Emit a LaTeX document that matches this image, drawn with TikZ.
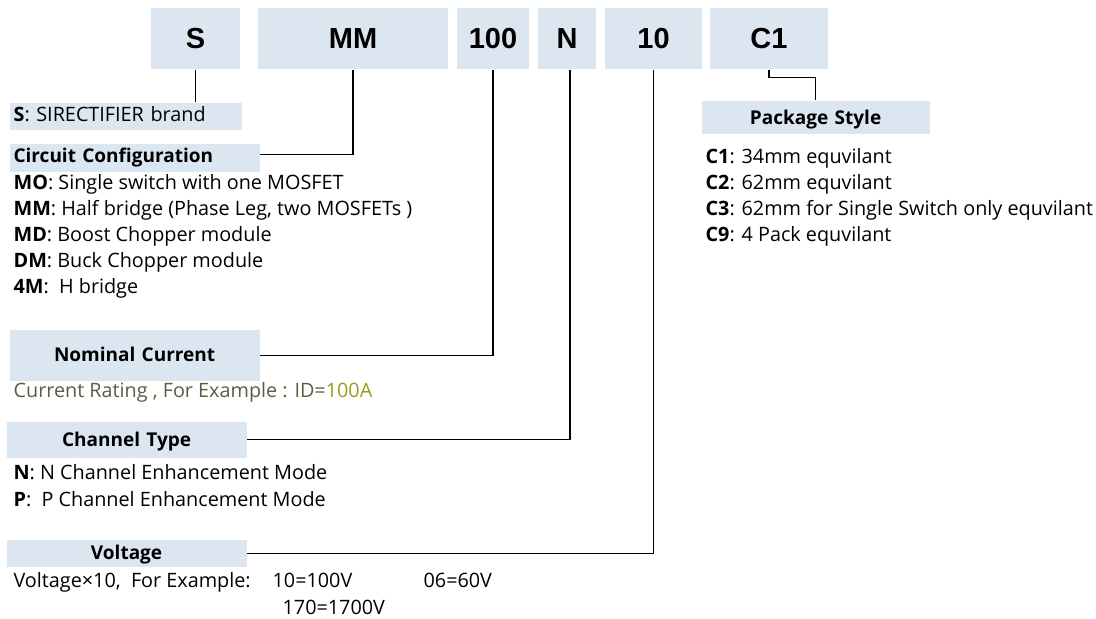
\documentclass[tikz,border=0pt]{standalone}
\usepackage{fontspec}
\setmainfont{Open Sans}
\newfontfamily\codefam{Liberation Sans}
\usetikzlibrary{calc}
\definecolor{boxblue}{HTML}{DCE6F1}
\definecolor{ratinggray}{HTML}{5C5C40}
\definecolor{ratingolive}{HTML}{9C9A1E}

\begin{document}
\begin{tikzpicture}[x=1pt, y=-1pt, line width=1.2pt,
    codebox/.style={fill=boxblue, minimum height=61pt, inner sep=0pt,
      font=\codefam\fontsize{29}{34}\selectfont\bfseries},
    tagbox/.style={fill=boxblue, anchor=north west, inner xsep=4pt, inner ysep=0pt,
      font=\fontsize{19}{26}\selectfont\bfseries},
    entry/.style={anchor=base west, inner sep=0pt, font=\fontsize{19.8}{26}\selectfont}]
  \useasboundingbox (0,0) rectangle (1096,619);

  \node[codebox, minimum width=89pt]  (s)    at (195.5,38.5) {S};
  \node[codebox, minimum width=190pt] (mm)   at (353,38.5)   {MM};
  \node[codebox, minimum width=72pt]  (cur)  at (493,38.5)   {100};
  \node[codebox, minimum width=58pt]  (ch)   at (567,38.5)   {N};
  \node[codebox, minimum width=97pt]  (volt) at (653.5,38.5) {10};
  \node[codebox, minimum width=118pt] (pkg)  at (769,38.5)   {C1};

  \node[tagbox, text width=224pt, align=left, text height=19pt, text depth=8pt,
    font=\fontsize{19.8}{26}\selectfont] (brand) at (9,102) {\textbf{S}: SIRECTIFIER brand};
  \node[tagbox, text width=242pt, align=left, text height=19pt, text depth=9pt]
    (circuit) at (9,143) {Circuit Configuration};
  \node[tagbox, text width=242pt, align=center, text height=32pt, text depth=19pt]
    (nominal) at (9,329) {Nominal Current};
  \node[tagbox, text width=232pt, align=center, text height=25pt, text depth=11pt]
    (channel) at (6,421) {Channel Type};
  \node[tagbox, text width=232pt, align=center, text height=20pt, text depth=7pt]
    (voltage) at (6,539) {Voltage};
  \node[tagbox, text width=220pt, align=center, text height=24pt, text depth=9pt]
    (package) at (701,100) {Package Style};

  \draw (s.south) -- (s.south |- brand.north);
  \draw ([yshift=3pt]circuit.east) -| (mm.south);
  \draw (nominal.east) -| (cur.south);
  \draw (channel.east) -| ([xshift=3pt]ch.south);
  \draw (voltage.east) -| (volt.south);
  \draw (pkg.south) -- ++(0,8) -| (package.north);

  \foreach \yy/\key/\txt in {189/MO/{Single switch with one MOSFET},
      215/MM/{Half bridge (Phase Leg, two MOSFETs )},
      241/MD/{Boost Chopper module},
      267/DM/{Buck Chopper module},
      293/4M/{\ H bridge}}
    \node[entry] (circ-\key) at (13,\yy) {\textbf{\key}: \txt};

  \node[entry, text=ratinggray] (rating) at (13,397)
    {Current Rating , For Example : ID=\textcolor{ratingolive}{100A}};

  \node[entry] (chan-n) at (13,479) {\textbf{N}: N Channel Enhancement Mode};
  \node[entry] (chan-p) at (13,506) {\textbf{P}: \ P Channel Enhancement Mode};

  \node[entry] (volt-x)   at (13,587)  {Voltage×10, ~For Example:};
  \node[entry] (volt-ex1) at (272,587) {10=100V};
  \node[entry] (volt-ex2) at (423,587) {06=60V};
  \node[entry] (volt-ex3) at (282,614) {170=1700V};

  \foreach \yy/\key/\txt in {163/C1/{34mm equvilant},
      189/C2/{62mm equvilant},
      215/C3/{62mm for Single Switch only equvilant},
      241/C9/{4 Pack equvilant}}
    \node[entry] (pkg-\key) at (705,\yy) {\textbf{\key}: \txt};
\end{tikzpicture}
\end{document}
